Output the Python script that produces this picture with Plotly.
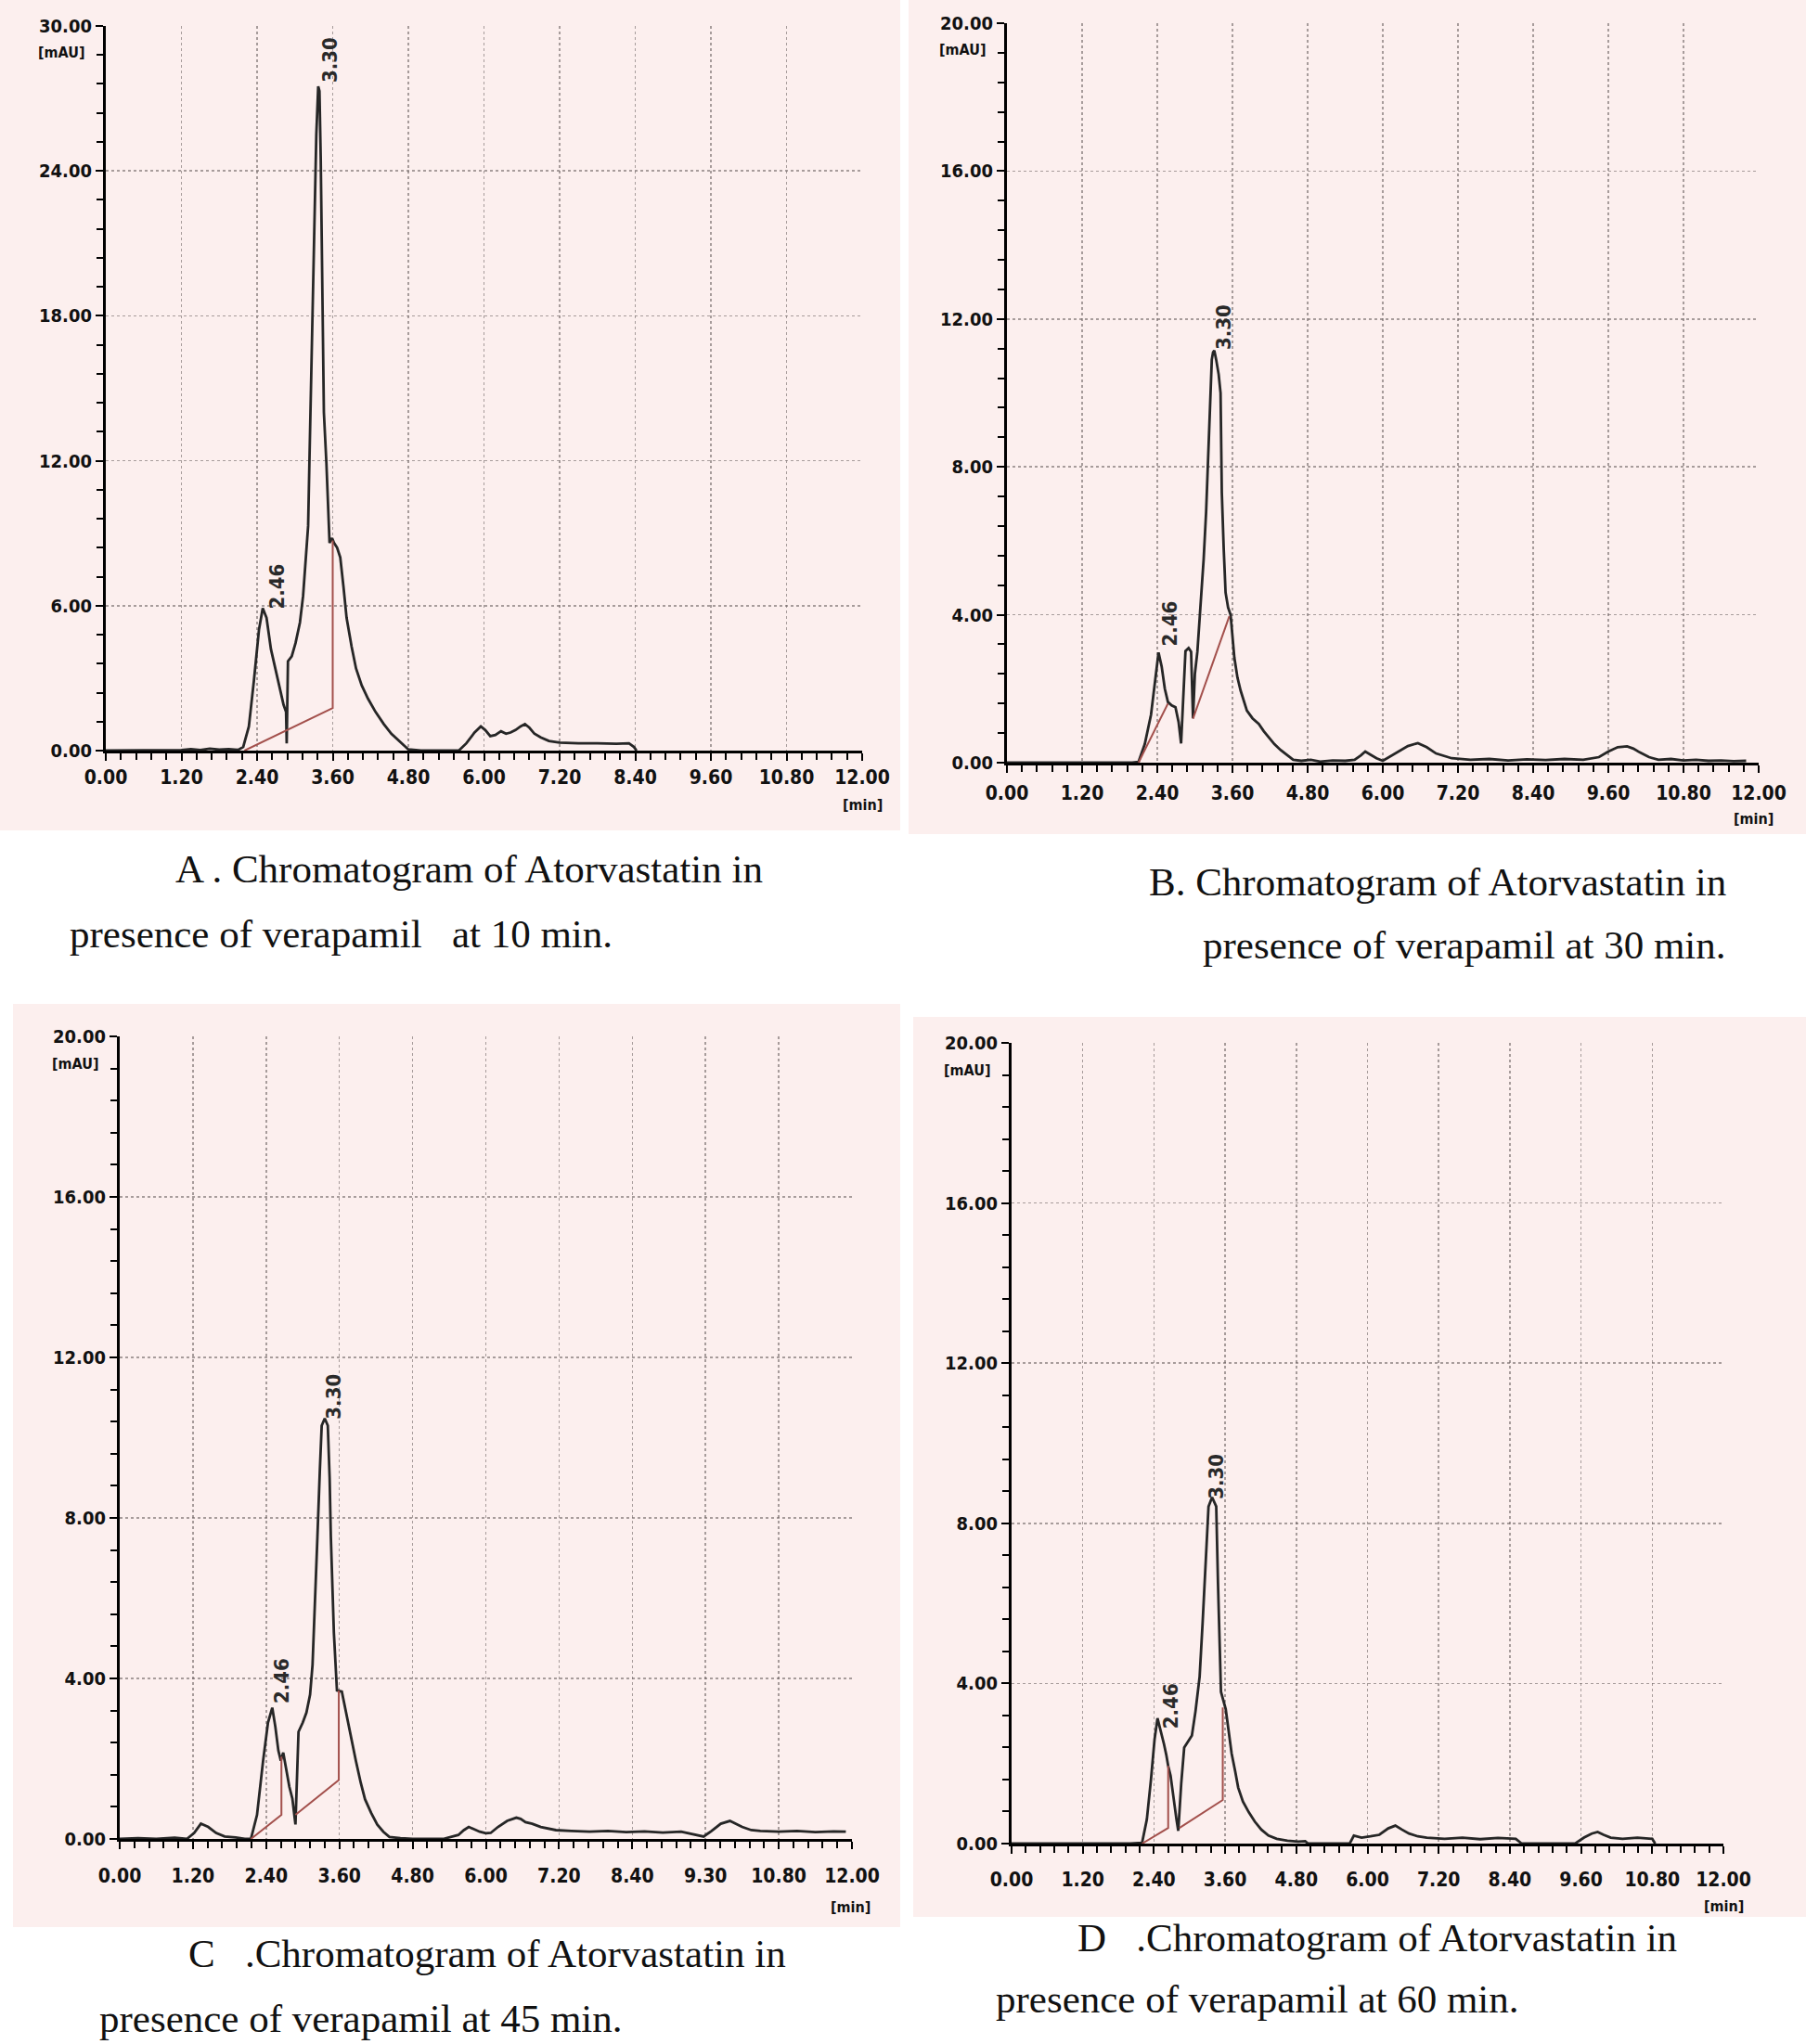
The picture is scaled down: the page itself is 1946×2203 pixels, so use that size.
import plotly.graph_objects as go

# ---------------- data ----------------
X_TICKVALS = [0.0, 1.2, 2.4, 3.6, 4.8, 6.0, 7.2, 8.4, 9.6, 10.8, 12.0]
X_TICKTEXT = ["0.00", "1.20", "2.40", "3.60", "4.80", "6.00", "7.20", "8.40", "9.60", "10.80", "12.00"]
X_TICKTEXT_C = ["0.00", "1.20", "2.40", "3.60", "4.80", "6.00", "7.20", "8.40", "9.30", "10.80", "12.00"]
Y_TICKVALS_A = [0, 6, 12, 18, 24, 30]
Y_TICKTEXT_A = ["0.00", "6.00", "12.00", "18.00", "24.00", "30.00"]
Y_TICKVALS_BCD = [0, 4, 8, 12, 16, 20]
Y_TICKTEXT_BCD = ["0.00", "4.00", "8.00", "12.00", "16.00", "20.00"]
PEAK_LABELS = ["2.46", "3.30"]

# Panel A (10 min)
A_t = [0.00, 0.60, 1.20, 1.35, 1.50, 1.65, 1.80, 1.95, 2.10, 2.18, 2.27, 2.35, 2.43, 2.49, 2.55, 2.62,
       2.69, 2.76, 2.82, 2.86, 2.87, 2.89, 2.95, 3.01, 3.08, 3.13, 3.18, 3.21, 3.23, 3.26, 3.30, 3.34,
       3.37, 3.39, 3.41, 3.43, 3.46, 3.50, 3.55, 3.59, 3.62, 3.67, 3.72, 3.77, 3.82, 3.90, 3.97, 4.06,
       4.16, 4.28, 4.41, 4.53, 4.65, 4.80, 5.00, 5.30, 5.60, 5.72, 5.85, 5.95, 6.02, 6.10, 6.18, 6.27,
       6.35, 6.42, 6.50, 6.58, 6.65, 6.72, 6.80, 6.90, 7.03, 7.20, 7.50, 7.80, 8.10, 8.30, 8.38, 8.42]
A_y = [0.00, 0.00, 0.02, 0.06, 0.02, 0.08, 0.04, 0.06, 0.03, 0.15, 1.0, 2.9, 5.0, 5.9, 5.5, 4.2,
       3.4, 2.65, 1.9, 1.6, 0.3, 3.7, 3.9, 4.45, 5.3, 6.4, 8.3, 9.3, 11.9, 15.5, 21.0, 25.5,
       27.5, 27.3, 24.5, 20.0, 14.0, 11.9, 8.6, 8.8, 8.6, 8.4, 8.0, 6.8, 5.5, 4.3, 3.4, 2.7,
       2.15, 1.6, 1.1, 0.7, 0.42, 0.05, 0.0, 0.0, 0.0, 0.3, 0.75, 1.0, 0.85, 0.6, 0.65, 0.8,
       0.7, 0.75, 0.85, 1.0, 1.1, 0.95, 0.7, 0.55, 0.4, 0.33, 0.3, 0.3, 0.28, 0.3, 0.15, 0.0]
A_base_t = [2.20, 3.60, 3.60]
A_base_y = [0.0, 1.76, 8.7]
A_peak_t = [2.49, 3.37]
A_peak_y = [5.9, 27.5]

# Panel B (30 min)
B_t = [0.00, 0.50, 1.00, 1.50, 2.00, 2.10, 2.20, 2.30, 2.37, 2.42, 2.47, 2.52, 2.57, 2.63, 2.69, 2.74,
       2.78, 2.82, 2.85, 2.90, 2.94, 2.97, 3.00, 3.04, 3.09, 3.14, 3.18, 3.21, 3.24, 3.27, 3.29, 3.31,
       3.34, 3.38, 3.41, 3.43, 3.46, 3.49, 3.53, 3.57, 3.63, 3.68, 3.73, 3.78, 3.83, 3.92, 4.02, 4.10,
       4.17, 4.27, 4.37, 4.47, 4.57, 4.70, 4.85, 5.00, 5.20, 5.40, 5.55, 5.65, 5.72, 5.80, 5.90, 6.00,
       6.10, 6.25, 6.40, 6.56, 6.70, 6.85, 6.95, 7.10, 7.40, 7.70, 8.00, 8.30, 8.60, 8.90, 9.20, 9.45,
       9.60, 9.75, 9.90, 10.00, 10.10, 10.25, 10.40, 10.60, 10.80, 11.00, 11.20, 11.40, 11.60, 11.80]
B_y = [0.00, 0.00, 0.00, 0.00, 0.00, 0.02, 0.5, 1.3, 2.2, 2.98, 2.6, 2.0, 1.64, 1.55, 1.5, 1.1,
       0.52, 1.8, 3.02, 3.1, 3.0, 1.2, 2.4, 3.0, 4.2, 5.5, 6.8, 8.2, 9.5, 10.9, 11.1, 11.15,
       10.9, 10.5, 10.0, 7.3, 5.8, 4.6, 4.2, 4.0, 2.84, 2.3, 1.95, 1.65, 1.41, 1.2, 1.05, 0.85,
       0.7, 0.5, 0.34, 0.2, 0.08, 0.05, 0.08, 0.03, 0.06, 0.05, 0.08, 0.2, 0.3, 0.22, 0.12, 0.05,
       0.15, 0.3, 0.45, 0.53, 0.42, 0.25, 0.19, 0.12, 0.08, 0.1, 0.06, 0.09, 0.07, 0.1, 0.08, 0.15,
       0.3, 0.42, 0.44, 0.38, 0.28, 0.15, 0.08, 0.1, 0.06, 0.08, 0.05, 0.06, 0.04, 0.05]
B_base_t = [2.10, 2.57, None, 2.97, 3.55]
B_base_y = [0.0, 1.6, None, 1.19, 3.96]
B_peak_t = [2.42, 3.31]
B_peak_y = [2.98, 11.1]

# Panel C (45 min)
C_t = [0.00, 0.30, 0.60, 0.90, 1.10, 1.22, 1.33, 1.45, 1.58, 1.72, 1.90, 2.05, 2.15, 2.25, 2.35, 2.43,
       2.50, 2.55, 2.60, 2.64, 2.68, 2.72, 2.78, 2.83, 2.88, 2.93, 3.00, 3.06, 3.12, 3.16, 3.20, 3.24,
       3.28, 3.31, 3.36, 3.41, 3.44, 3.46, 3.51, 3.56, 3.64, 3.71, 3.79, 3.87, 3.95, 4.02, 4.12, 4.22,
       4.32, 4.42, 4.60, 4.80, 5.00, 5.30, 5.55, 5.64, 5.72, 5.80, 5.90, 6.00, 6.08, 6.20, 6.35, 6.50,
       6.57, 6.65, 6.76, 6.90, 7.05, 7.15, 7.40, 7.70, 8.00, 8.30, 8.60, 8.90, 9.20, 9.40, 9.57, 9.70,
       9.85, 10.00, 10.10, 10.20, 10.35, 10.50, 10.80, 11.10, 11.40, 11.70, 11.90]
C_y = [0.00, 0.02, 0.00, 0.03, 0.00, 0.15, 0.38, 0.30, 0.15, 0.06, 0.04, 0.00, 0.00, 0.6, 1.95, 2.9,
       3.27, 2.8, 2.2, 1.95, 2.15, 1.8, 1.3, 1.0, 0.36, 2.67, 2.9, 3.15, 3.6, 4.34, 5.8, 7.53,
       9.2, 10.3, 10.48, 10.3, 9.0, 7.53, 5.13, 3.7, 3.67, 3.15, 2.5, 1.95, 1.4, 0.99, 0.65, 0.36,
       0.18, 0.05, 0.02, 0.00, 0.00, 0.00, 0.1, 0.22, 0.30, 0.25, 0.18, 0.14, 0.15, 0.3, 0.45, 0.53,
       0.5, 0.42, 0.38, 0.3, 0.26, 0.22, 0.2, 0.18, 0.2, 0.17, 0.19, 0.16, 0.18, 0.12, 0.06, 0.2,
       0.38, 0.45, 0.38, 0.3, 0.22, 0.2, 0.18, 0.2, 0.17, 0.19, 0.18]
C_base_t = [2.15, 2.65, 2.65, None, 2.88, 3.59, 3.59]
C_base_y = [0.0, 0.6, 2.05, None, 0.6, 1.47, 3.7]
C_peak_t = [2.50, 3.36]
C_peak_y = [3.27, 10.48]

# Panel D (60 min)
D_t = [0.00, 0.50, 1.00, 1.50, 2.00, 2.20, 2.28, 2.35, 2.41, 2.46, 2.52, 2.57, 2.61, 2.64, 2.68, 2.73,
       2.78, 2.81, 2.86, 2.91, 2.97, 3.04, 3.10, 3.17, 3.22, 3.27, 3.32, 3.38, 3.45, 3.48, 3.53, 3.61,
       3.66, 3.71, 3.77, 3.82, 3.90, 4.00, 4.10, 4.21, 4.33, 4.47, 4.65, 4.83, 4.95, 5.00, 5.40, 5.70,
       5.77, 5.90, 6.05, 6.20, 6.35, 6.47, 6.58, 6.70, 6.85, 7.00, 7.30, 7.60, 7.90, 8.20, 8.50, 8.60,
       9.50, 9.65, 9.78, 9.88, 9.98, 10.10, 10.30, 10.55, 10.80, 10.85]
D_y = [0.00, 0.00, 0.00, 0.00, 0.00, 0.02, 0.6, 1.6, 2.6, 3.13, 2.8, 2.48, 2.2, 1.94, 1.7, 1.1,
       0.6, 0.32, 1.5, 2.4, 2.55, 2.7, 3.3, 4.17, 5.5, 6.87, 8.42, 8.65, 8.42, 6.49, 3.79, 3.36,
       2.8, 2.25, 1.8, 1.4, 1.05, 0.78, 0.55, 0.35, 0.2, 0.12, 0.07, 0.05, 0.06, 0.00, 0.00, 0.00,
       0.2, 0.15, 0.18, 0.22, 0.38, 0.45, 0.35, 0.25, 0.18, 0.15, 0.12, 0.15, 0.11, 0.14, 0.12, 0.00,
       0.00, 0.15, 0.25, 0.29, 0.22, 0.15, 0.12, 0.15, 0.12, 0.00]
D_base_t = [2.20, 2.64, 2.64, None, 2.83, 3.56, 3.56]
D_base_y = [0.0, 0.39, 1.94, None, 0.39, 1.09, 3.4]
D_peak_t = [2.46, 3.38]
D_peak_y = [3.13, 8.65]

CAPTIONS = [
    ["A . Chromatogram of Atorvastatin in", "presence of verapamil\u00a0\u00a0 at 10 min."],
    ["B. Chromatogram of Atorvastatin in", "presence of verapamil at 30 min."],
    ["C\u00a0\u00a0 .Chromatogram of Atorvastatin in", "presence of verapamil at 45 min."],
    ["D\u00a0\u00a0 .Chromatogram of Atorvastatin in", "presence of verapamil at 60 min."],
]

# ---------------- styling / layout ----------------
W, H = 1946, 2203
PINK = "#fcefee"
TRACE_COLOR = "#262626"
BASE_COLOR = "#a3504c"
GRID_COLOR = "rgba(110,100,100,0.6)"
NARROW = "DejaVu Sans Condensed, DejaVu Sans, sans-serif"
XTICK_FONT = dict(family=NARROW, size=21, color="#111111", weight="bold")
YTICK_FONT = dict(family=NARROW, size=20, color="#111111", weight="bold")
UNIT_FONT = dict(family=NARROW, size=16, color="#111111", weight="bold")
LABEL_FONT = dict(family=NARROW, size=22, color="#2a2a2a", weight="bold")
CAPTION_FONT = dict(family="Liberation Serif, Times New Roman, serif", size=43, color="#111111")

panels = [
    dict(t=A_t, y=A_y, bt=A_base_t, by=A_base_y, pt=A_peak_t, py=A_peak_y,
         ymax=30, yvals=Y_TICKVALS_A, ytext=Y_TICKTEXT_A, yminor=1.2, xtext=X_TICKTEXT,
         px=(114, 929), py_=(28, 809), shifts=[(15, 23), (12, 29)], minshift=(0, -58), xstand=0,
         bg=(0, 970, 0, 895),
         cap=[(187, 937), (73, 1007)]),
    dict(t=B_t, y=B_y, bt=B_base_t, by=B_base_y, pt=B_peak_t, py=B_peak_y,
         ymax=20, yvals=Y_TICKVALS_BCD, ytext=Y_TICKTEXT_BCD, yminor=0.8, xtext=X_TICKTEXT,
         px=(1085, 1895), py_=(25, 822), shifts=[(12, 31), (10, 27)], minshift=(-6, -60), xstand=4,
         bg=(979, 1946, 0, 899),
         cap=[(1236, 951), (1294, 1019)]),
    dict(t=C_t, y=C_y, bt=C_base_t, by=C_base_y, pt=C_peak_t, py=C_peak_y,
         ymax=20, yvals=Y_TICKVALS_BCD, ytext=Y_TICKTEXT_BCD, yminor=0.8, xtext=X_TICKTEXT_C,
         px=(129, 918), py_=(1117, 1982), shifts=[(10, 29), (10, 24)], minshift=(-1, -73), xstand=11,
         bg=(14, 970, 1082, 2077),
         cap=[(201, 2105), (105, 2175)]),
    dict(t=D_t, y=D_y, bt=D_base_t, by=D_base_y, pt=D_peak_t, py=D_peak_y,
         ymax=20, yvals=Y_TICKVALS_BCD, ytext=Y_TICKTEXT_BCD, yminor=0.8, xtext=X_TICKTEXT,
         px=(1090, 1857), py_=(1124, 1987), shifts=[(15, 13), (5, 22)], minshift=(0, -67), xstand=10,
         bg=(984, 1946, 1096, 2066),
         cap=[(1159, 2088), (1071, 2154)]),
]

fig = go.Figure()
shapes = []
annotations = []
layout_axes = {}

for i, p in enumerate(panels, start=1):
    xa = "x" if i == 1 else f"x{i}"
    ya = "y" if i == 1 else f"y{i}"
    xkey = "xaxis" if i == 1 else f"xaxis{i}"
    ykey = "yaxis" if i == 1 else f"yaxis{i}"

    fig.add_trace(go.Scatter(x=p["t"], y=p["y"], mode="lines", xaxis=xa, yaxis=ya,
                             line=dict(color=TRACE_COLOR, width=2.8), showlegend=False,
                             hoverinfo="skip"))
    fig.add_trace(go.Scatter(x=p["bt"], y=p["by"], mode="lines", xaxis=xa, yaxis=ya,
                             line=dict(color=BASE_COLOR, width=2), showlegend=False,
                             connectgaps=False, hoverinfo="skip"))

    x0, x1 = p["px"]
    yt, yb = p["py_"]
    layout_axes[xkey] = dict(
        domain=[x0 / W, x1 / W], anchor=ya, range=[0, 12], fixedrange=True, automargin=False,
        showline=True, linecolor="black", linewidth=3, mirror=False,
        ticks="outside", ticklen=8, tickwidth=2, tickcolor="black",
        tickmode="array", tickvals=X_TICKVALS, ticktext=p["xtext"],
        tickfont=XTICK_FONT, ticklabelstandoff=p["xstand"],
        showgrid=True, gridcolor=GRID_COLOR, gridwidth=1.5, griddash="dot",
        zeroline=False,
        minor=dict(tickmode="linear", tick0=0, dtick=0.24, ticks="outside", ticklen=7,
                   tickwidth=2, tickcolor="black", showgrid=False),
    )
    layout_axes[ykey] = dict(
        domain=[1 - yb / H, 1 - yt / H], anchor=xa, range=[0, p["ymax"]], fixedrange=True,
        automargin=False,
        showline=True, linecolor="black", linewidth=3, mirror=False,
        ticks="outside", ticklen=8, tickwidth=2, tickcolor="black",
        tickmode="array", tickvals=p["yvals"], ticktext=p["ytext"],
        tickfont=YTICK_FONT,
        showgrid=True, gridcolor=GRID_COLOR, gridwidth=1.5, griddash="dot",
        zeroline=False,
        minor=dict(tickmode="linear", tick0=0, dtick=p["yminor"], ticks="outside", ticklen=7,
                   tickwidth=2, tickcolor="black", showgrid=False),
    )

    bx0, bx1, by0, by1 = p["bg"]
    shapes.append(dict(type="rect", xref="paper", yref="paper", layer="below",
                       x0=bx0 / W, x1=bx1 / W, y0=1 - by1 / H, y1=1 - by0 / H,
                       fillcolor=PINK, line=dict(width=0)))

    # peak retention labels
    for lab, t, h, (dx, dy) in zip(PEAK_LABELS, p["pt"], p["py"], p["shifts"]):
        annotations.append(dict(x=t, y=h, xref=xa, yref=ya, text=lab, showarrow=False,
                                textangle=-90, xshift=dx, yshift=dy, font=LABEL_FONT,
                                xanchor="center", yanchor="middle"))

    # unit labels
    annotations.append(dict(x=0, y=1, xref=f"{xa} domain", yref=f"{ya} domain", text="[mAU]",
                            showarrow=False, xanchor="right", yanchor="middle",
                            xshift=-20, yshift=-29, font=UNIT_FONT))
    mx, my = p["minshift"]
    annotations.append(dict(x=1, y=0, xref=f"{xa} domain", yref=f"{ya} domain", text="[min]",
                            showarrow=False, xanchor="center", yanchor="middle",
                            xshift=mx, yshift=my, font=UNIT_FONT))

    # captions
    for text, (cx, cy) in zip(CAPTIONS[i - 1], p["cap"]):
        annotations.append(dict(x=cx / W, y=1 - cy / H, xref="paper", yref="paper", text=text,
                                showarrow=False, xanchor="left", yanchor="middle",
                                font=CAPTION_FONT))

fig.update_layout(
    width=W, height=H,
    margin=dict(l=0, r=0, t=0, b=0, autoexpand=False),
    paper_bgcolor="white",
    plot_bgcolor="rgba(0,0,0,0)",
    shapes=shapes,
    annotations=annotations,
    showlegend=False,
    **layout_axes,
)

fig.write_html("out.html",
               config={"displayModeBar": False, "staticPlot": True},
               post_script="document.body.style.margin='0px';document.body.style.overflow='hidden';")
